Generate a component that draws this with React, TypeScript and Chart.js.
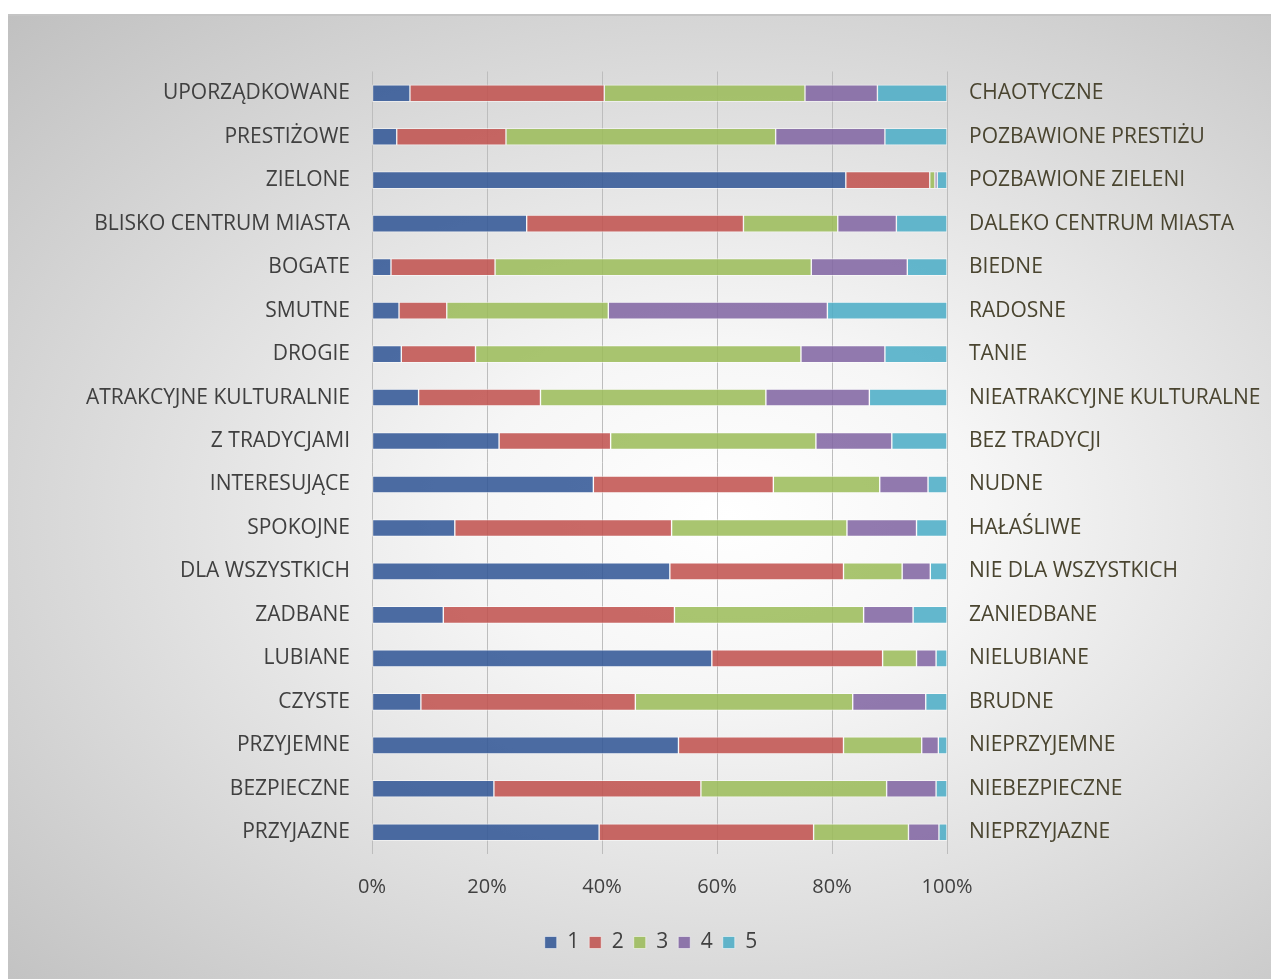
import React, { useEffect, useRef } from "react";
import { Chart, registerables } from "chart.js";
Chart.register(...registerables);

const leftLabels = [
  "UPORZĄDKOWANE", "PRESTIŻOWE", "ZIELONE", "BLISKO CENTRUM MIASTA", "BOGATE", "SMUTNE",
  "DROGIE", "ATRAKCYJNE KULTURALNIE", "Z TRADYCJAMI", "INTERESUJĄCE", "SPOKOJNE",
  "DLA WSZYSTKICH", "ZADBANE", "LUBIANE", "CZYSTE", "PRZYJEMNE", "BEZPIECZNE", "PRZYJAZNE",
];
const rightLabels = [
  "CHAOTYCZNE", "POZBAWIONE PRESTIŻU", "POZBAWIONE ZIELENI", "DALEKO CENTRUM MIASTA", "BIEDNE",
  "RADOSNE", "TANIE", "NIEATRAKCYJNE KULTURALNE", "BEZ TRADYCJI", "NUDNE", "HAŁAŚLIWE",
  "NIE DLA WSZYSTKICH", "ZANIEDBANE", "NIELUBIANE", "BRUDNE", "NIEPRZYJEMNE", "NIEBEZPIECZNE",
  "NIEPRZYJAZNE",
];
const seriesNames = ["1", "2", "3", "4", "5"];
const s1 = [6.6, 4.3, 82.4, 26.9, 3.3, 4.7, 5.1, 8.1, 22.1, 38.5, 14.4, 51.8, 12.4, 59.1, 8.5, 53.3, 21.2, 39.5];
const s2 = [33.8, 19.0, 14.6, 37.7, 18.1, 8.3, 12.9, 21.2, 19.4, 31.3, 37.7, 30.2, 40.2, 29.7, 37.3, 28.7, 36.0, 37.3];
const s3 = [34.9, 46.9, 0.9, 16.4, 55.0, 28.1, 56.6, 39.2, 35.7, 18.5, 30.5, 10.2, 32.9, 5.9, 37.8, 13.6, 32.3, 16.5];
const s4 = [12.6, 19.0, 0.4, 10.2, 16.7, 38.1, 14.6, 18.0, 13.2, 8.4, 12.1, 4.9, 8.6, 3.4, 12.7, 2.9, 8.6, 5.3];
const s5 = [12.1, 10.8, 1.7, 8.8, 6.9, 20.8, 10.8, 13.5, 9.6, 3.3, 5.3, 2.9, 5.9, 1.9, 3.7, 1.5, 1.9, 1.4];
const xTicks = [0, 20, 40, 60, 80, 100];

const colors = [
  "rgba(48,85,149,0.86)",
  "rgba(192,80,77,0.86)",
  "rgba(155,187,89,0.86)",
  "rgba(128,100,162,0.86)",
  "rgba(75,172,198,0.86)",
];

const FONT = "'Open Sans', sans-serif";
const W = 1286;
const H = 965;

export default function App() {
  const ref = useRef<HTMLCanvasElement | null>(null);
  useEffect(() => {
    if (!ref.current) return;
    const series = [s1, s2, s3, s4, s5];
    const chart = new Chart(ref.current, {
      type: "bar",
      data: {
        labels: leftLabels,
        datasets: series.map((d, i) => ({
          label: seriesNames[i],
          data: d,
          backgroundColor: colors[i],
          borderColor: "rgba(255,255,255,0.5)",
          borderWidth: 1,
          borderSkipped: false,
          barThickness: 17,
          yAxisID: "y",
        })),
      },
      options: {
        indexAxis: "y",
        responsive: false,
        animation: false,
        layout: { padding: { top: 57.5, bottom: 16, left: 0, right: 0 } },
        plugins: {
          tooltip: { enabled: false },
          legend: {
            position: "bottom",
            labels: {
              boxWidth: 12,
              boxHeight: 12,
              padding: 10,
              color: "#404040",
              font: { family: FONT, size: 21 },
            },
          },
        },
        scales: {
          x: {
            stacked: true,
            min: 0,
            max: 100,
            afterBuildTicks: (s: any) => {
              s.ticks = xTicks.map((v) => ({ value: v }));
            },
            ticks: {
              padding: 21,
              color: "#404040",
              font: { family: FONT, size: 20 },
              callback: (v: any) => v + "%",
            },
            grid: { color: "#bdbdbd", lineWidth: 1, drawTicks: false },
            border: { display: false },
            afterFit: (s: any) => {
              s.height = 68;
            },
          },
          y: {
            stacked: true,
            position: "left",
            grid: { display: false, drawTicks: false },
            border: { display: false },
            ticks: {
              padding: 22,
              color: "#404040",
              font: { family: FONT, size: 21 },
              autoSkip: false,
            },
            afterFit: (s: any) => {
              s.width = 364;
            },
          },
          y2: {
            type: "category",
            labels: rightLabels,
            position: "right",
            offset: true,
            grid: { display: false, drawTicks: false },
            border: { display: false },
            ticks: {
              padding: 22,
              color: "#4a4530",
              font: { family: FONT, size: 21 },
              autoSkip: false,
            },
            afterFit: (s: any) => {
              s.width = W - 939;
            },
          },
        },
      },
    } as any);
    return () => chart.destroy();
  }, []);
  return (
    <div
      style={{
        position: "absolute",
        left: 8,
        top: 14,
        width: 1263,
        height: H,
        overflow: "hidden",
        borderTop: "2px solid #c4c4c4",
        boxSizing: "border-box",
        background:
          "radial-gradient(ellipse farthest-corner at 57% 52%, #ffffff 0%, #f6f6f6 25%, #e4e4e4 50%, #c0c0c0 100%)",
      }}
    >
      <canvas ref={ref} width={W} height={H} style={{ display: "block", marginTop: -2 }} />
    </div>
  );
}
